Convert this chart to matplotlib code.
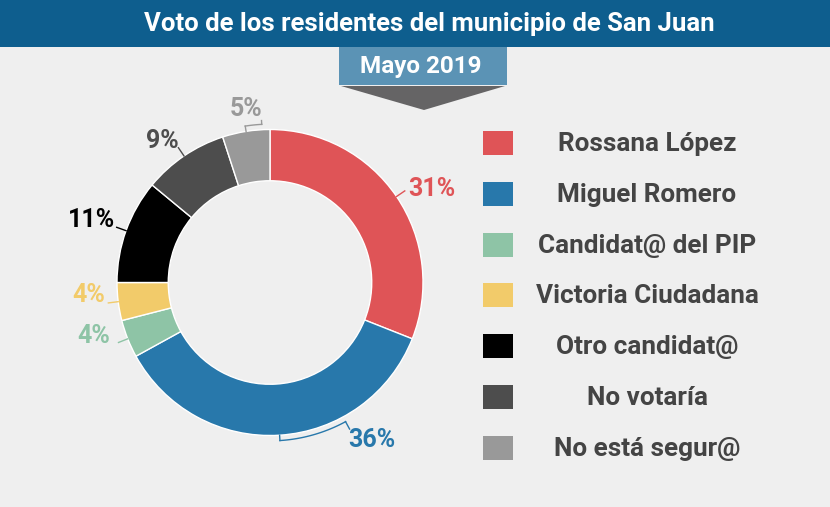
import numpy as np
import matplotlib
matplotlib.use("Agg")
import matplotlib.pyplot as plt
from matplotlib.patches import Rectangle, Polygon

# ---------------- data ----------------
categories = ["Rossana López", "Miguel Romero", "Candidat@ del PIP",
              "Victoria Ciudadana", "Otro candidat@", "No votaría", "No está segur@"]
values = [31, 36, 4, 4, 11, 9, 5]
colors = ["#DF5457", "#2878AB", "#8EC4A6", "#F2CB6A", "#000000", "#4D4D4D", "#999999"]
title = "Voto de los residentes del municipio de San Juan"
subtitle = "Mayo 2019"

# ---------------- figure ----------------
W, H = 830, 507
BG = "#EFEFEF"
plt.rcParams['font.family'] = ['Roboto', 'DejaVu Sans']
fig = plt.figure(figsize=(W / 100, H / 100), dpi=100, facecolor=BG)

# overlay axes in pixel coordinates (y down)
ov = fig.add_axes([0, 0, 1, 1])
ov.set_xlim(0, W)
ov.set_ylim(H, 0)
ov.axis('off')
ov.set_zorder(0)

# title bar
ov.add_patch(Rectangle((0, 0), W, 47, facecolor="#0E5E8E", edgecolor='none'))
ov.text(429, 24, title, color='white', fontsize=18.5, fontweight='bold',
        ha='center', va='center')
# subtitle box + arrow
ov.add_patch(Rectangle((339, 47), 168, 38, facecolor="#5B93B5", edgecolor='none'))
ov.text(421, 66.5, subtitle, color='white', fontsize=17.5, fontweight='bold',
        ha='center', va='center')
ov.add_patch(Polygon([(341, 86), (505, 86), (424, 110)], closed=True,
                     facecolor="#656465", edgecolor='none'))

# legend
for i, (cat, col) in enumerate(zip(categories, colors)):
    yc = 143 + i * 50.8
    ov.add_patch(Rectangle((483, yc - 12), 30, 24, facecolor=col, edgecolor='none'))
    ov.text(647, yc + 1, cat, color="#444444", fontsize=18.8, fontweight='bold',
            ha='center', va='center')

# ---------------- donut ----------------
cx, cy, R = 270, 282.5, 153
ax = fig.add_axes([(cx - R) / W, 1 - (cy + R) / H, 2 * R / W, 2 * R / H])
ax.set_zorder(1)
ax.patch.set_alpha(0)
wedges, _ = ax.pie(values, colors=colors, startangle=90, counterclock=False, radius=1,
                   wedgeprops=dict(width=0.335, edgecolor='white', linewidth=1))
ax.set_xlim(-1, 1)
ax.set_ylim(-1, 1)
ax.set_aspect('equal')
ax.axis('off')

def pt(theta, r):
    """theta: degrees clockwise from top"""
    phi = np.deg2rad(90 - theta)
    return r * np.cos(phi), r * np.sin(phi)

total = sum(values)
cum = np.cumsum([0] + values)
mids = [(cum[i] + values[i] / 2) / total * 360 for i in range(len(values))]

# label layout: index -> (connector end angle, text angle, text radius, ha, va)
layout = {
    0: dict(end=None, ta=None, tr=1.09, ha='left', va='center'),
    1: dict(end=151.5, ta=153.5, tr=1.15, ha='left', va='center'),
    2: dict(end=None, ta=251.5, tr=1.10, ha='right', va='center'),
    3: dict(end=None, ta=265.5, tr=1.08, ha='right', va='center'),
    4: dict(end=None, ta=292.0, tr=1.09, ha='right', va='center'),
    5: dict(end=None, ta=327.0, tr=1.10, ha='right', va='center'),
    6: dict(end=357.0, ta=351.5, tr=1.07, ha='center', va='bottom'),
}

for i, v in enumerate(values):
    m = mids[i]
    L = layout[i]
    col = colors[i]
    if L['end'] is None:
        a = pt(m, 1.0)
        b = pt(m, 1.065)
        ax.plot([a[0], b[0]], [a[1], b[1]], color=col, lw=1, clip_on=False)
    else:
        ra = 1.035
        a = pt(m, 1.0)
        b = pt(m, ra)
        ax.plot([a[0], b[0]], [a[1], b[1]], color=col, lw=1, clip_on=False)
        th = np.linspace(m, L['end'], 40)
        xs, ys = zip(*[pt(t, ra) for t in th])
        ax.plot(xs, ys, color=col, lw=1, clip_on=False)
        c = pt(L['end'], ra)
        d = pt(L['end'], 1.09 if i == 1 else 1.06)
        ax.plot([c[0], d[0]], [c[1], d[1]], color=col, lw=1, clip_on=False)
    ta = L['ta'] if L['ta'] is not None else m
    tx, ty = pt(ta, L['tr'])
    ax.text(tx, ty, f"{v}%", color=col, fontsize=18, fontweight='bold',
            ha=L['ha'], va=L['va'], clip_on=False)

fig.savefig("out.png", dpi=100, facecolor=BG)
